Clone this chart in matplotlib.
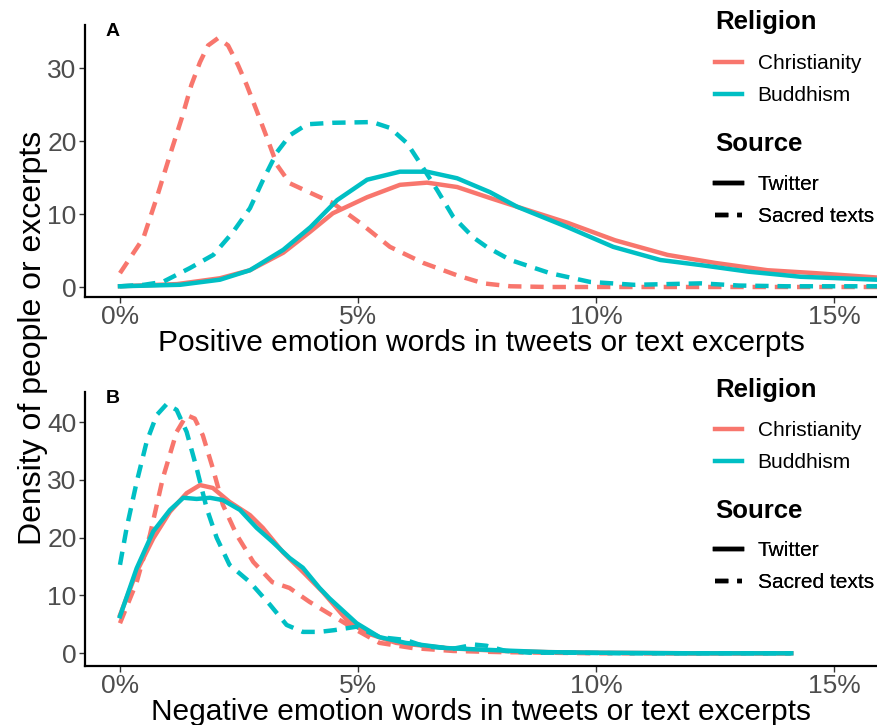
import matplotlib
matplotlib.use("Agg")
import matplotlib.pyplot as plt
from matplotlib.lines import Line2D

plt.rcParams['font.family'] = ['Liberation Sans', 'DejaVu Sans']

RED = '#F8766D'
TEAL = '#00BFC4'

# ---------------- Panel A: positive emotion words ----------------
chr_sacred_pos_x = [0, 0.49, 0.77, 1.05, 1.3, 1.5, 1.68, 1.85, 2.06, 2.27, 2.48, 2.66, 2.88, 3.09, 3.3,
                    3.57, 4.0, 4.47, 5.04, 5.67, 6.37, 7.08, 7.63, 8.2, 9, 10, 11, 12, 13, 14, 15, 15.9]
chr_sacred_pos_y = [1.9, 6.7, 12.2, 18.1, 23.2, 27.7, 30.8, 33.1, 34.1, 33.1, 30.4, 27.7, 24, 20.4, 16.7,
                    14.2, 12.9, 11.5, 8.8, 5.5, 3.3, 1.6, 0.5, 0.1, 0, 0, 0, 0, 0, 0, 0, 0]

bud_sacred_pos_x = [0, 0.5, 0.9, 1.47, 1.96, 2.37, 2.73, 3.0, 3.3, 3.57, 3.93, 4.47, 5.3, 5.67, 6.03,
                    6.3, 6.66, 7.0, 7.42, 7.7, 8.2, 9.03, 9.87, 10.8, 11.5, 12.2, 13, 14, 15, 15.9]
bud_sacred_pos_y = [0.1, 0.3, 0.7, 2.6, 4.4, 7.5, 10.8, 14.6, 18.5, 20.8, 22.3, 22.5, 22.6, 21.8, 19.7,
                    17, 13.3, 9.6, 6.8, 5.5, 3.7, 1.9, 0.7, 0.3, 0.4, 0.5, 0.2, 0.1, 0.1, 0.1]

bud_tw_pos_x = [0, 1.26, 2.1, 2.73, 3.43, 4.0, 4.56, 5.19, 5.88, 6.45, 7.08, 7.77, 8.34, 9.4, 10.36,
                11.35, 12.2, 13.2, 14.3, 15.9]
bud_tw_pos_y = [0.1, 0.3, 1.0, 2.3, 5.1, 8.2, 11.9, 14.7, 15.8, 15.8, 14.9, 13.0, 11.0, 8.2, 5.5,
                3.7, 3.0, 2.1, 1.4, 1.0]

chr_tw_pos_x = [0, 1.2, 2.1, 2.73, 3.43, 4.0, 4.47, 5.19, 5.88, 6.45, 7.08, 7.77, 8.34, 9.4, 10.4,
                11.5, 12.5, 13.6, 14.6, 15.9]
chr_tw_pos_y = [0.1, 0.4, 1.2, 2.3, 4.7, 7.6, 10.1, 12.3, 14.0, 14.3, 13.7, 12.2, 11.0, 8.8, 6.4,
                4.4, 3.3, 2.3, 1.9, 1.3]

# ---------------- Panel B: negative emotion words ----------------
chr_sacred_neg_x = [0, 0.35, 0.63, 0.9, 1.19, 1.4, 1.57, 1.74, 1.95, 2.16, 2.45, 2.8, 3.2, 3.56, 3.98,
                    4.34, 4.97, 5.45, 6.15, 7, 8, 9, 10, 11, 12, 13, 14.1]
chr_sacred_neg_y = [5.2, 12.3, 20.5, 30.3, 38.3, 41.2, 40.6, 37.7, 32, 25.7, 20.5, 15.8, 12.3, 11.3, 8.9,
                    7.1, 4.0, 1.8, 0.9, 0.4, 0.2, 0.1, 0, 0, 0, 0, 0]

bud_sacred_neg_x = [0, 0.14, 0.35, 0.56, 0.77, 0.98, 1.19, 1.4, 1.61, 1.82, 2.03, 2.3, 2.73, 3.15, 3.5,
                    3.84, 4.19, 4.5, 4.97, 5.45, 6.0, 6.4, 7.0, 7.45, 7.7, 8.1, 8.6, 9.5, 10.5, 12, 14.1]
bud_sacred_neg_y = [15.3, 21.7, 29.6, 36.6, 41.2, 43.1, 42.1, 38.3, 32, 25.1, 20, 15.3, 12.3, 8.4, 4.9,
                    3.7, 3.7, 4.0, 4.6, 2.8, 2.3, 1.2, 0.8, 1.5, 1.3, 0.4, 0.1, 0.1, 0, 0, 0]

chr_tw_neg_x = [0, 0.35, 0.7, 1.05, 1.4, 1.68, 1.95, 2.3, 2.73, 3.0, 3.42, 3.84, 4.26, 4.76,
                5.18, 5.8, 6.86, 8, 9, 10, 12, 14.1]
chr_tw_neg_y = [6.6, 14.1, 19.9, 24.5, 27.7, 29.1, 28.6, 26.2, 23.9, 21.7, 17.5, 14.1, 10.6, 5.8,
                3.5, 1.8, 0.9, 0.4, 0.2, 0.1, 0, 0]

bud_tw_neg_x = [0, 0.35, 0.7, 1.05, 1.33, 1.61, 1.89, 2.16, 2.52, 2.87, 3.2, 3.56, 3.84, 4.19, 4.4,
                4.97, 5.45, 6.0, 6.86, 8, 9, 10, 12, 14.1]
bud_tw_neg_y = [6.4, 14.7, 21.1, 24.8, 26.9, 26.7, 26.9, 26.5, 24.8, 21.7, 19.3, 16.5, 14.8, 11.3, 9.5,
                5.2, 2.8, 1.8, 0.9, 0.5, 0.2, 0.1, 0, 0]

x_ticks = [0, 5, 10, 15]
x_tick_labels = ['0%', '5%', '10%', '15%']
yticks_A = [0, 10, 20, 30]
yticks_B = [0, 10, 20, 30, 40]

religions = ['Christianity', 'Buddhism']
sources = ['Twitter', 'Sacred texts']

W, H = 877, 725
fig = plt.figure(figsize=(W / 100, H / 100), dpi=100)

LW = 3.2
DASH = (3, 2)


def style_axes(ax, yticks, xlabel, ylim, panel):
    ax.set_xlim(-0.735, 15.9)
    ax.set_ylim(*ylim)
    ax.set_xticks(x_ticks)
    ax.set_xticklabels(x_tick_labels)
    ax.set_yticks(yticks)
    for s in ['top', 'right']:
        ax.spines[s].set_visible(False)
    for s in ['left', 'bottom']:
        ax.spines[s].set_linewidth(1.6)
        ax.spines[s].set_color('black')
    ax.tick_params(axis='both', labelsize=19, labelcolor='#4D4D4D', color='#333333',
                   length=4, width=1, pad=2)
    ax.set_xlabel(xlabel, fontsize=21.5, labelpad=0)
    ax.text(0.035, 0.975, panel, transform=ax.transAxes, fontsize=14, fontweight='bold',
            ha='center', va='center')


def add_legends(ax, rel_title_y, rel_top, src_title_y, src_top):
    kw = dict(loc='upper left', bbox_transform=fig.transFigure, frameon=False, fontsize=15,
              handlelength=1.3, handletextpad=0.75, labelspacing=0.645, borderpad=0,
              borderaxespad=0)
    h1 = [Line2D([], [], color=RED, lw=LW), Line2D([], [], color=TEAL, lw=LW)]
    leg1 = ax.legend(h1, religions, bbox_to_anchor=(715 / W, 1 - rel_top / H), **kw)
    ax.add_artist(leg1)
    h2 = [Line2D([], [], color='black', lw=LW),
          Line2D([], [], color='black', lw=LW, linestyle=(0, DASH))]
    leg2 = ax.legend(h2, sources, bbox_to_anchor=(715 / W, 1 - src_top / H), **kw)
    ax.add_artist(leg2)
    fig.text(715 / W, 1 - rel_title_y / H, 'Religion', fontsize=18.5, fontweight='bold',
             ha='left', va='center')
    fig.text(715 / W, 1 - src_title_y / H, 'Source', fontsize=18.5, fontweight='bold',
             ha='left', va='center')


# Panel A
axA = fig.add_axes([85 / W, 1 - 297 / H, 1 - 85 / W, (297 - 25) / H])
axA.plot(chr_tw_pos_x, chr_tw_pos_y, color=RED, lw=LW, solid_joinstyle='round')
axA.plot(chr_sacred_pos_x, chr_sacred_pos_y, color=RED, lw=LW, linestyle=(0, DASH))
axA.plot(bud_tw_pos_x, bud_tw_pos_y, color=TEAL, lw=LW, solid_joinstyle='round')
axA.plot(bud_sacred_pos_x, bud_sacred_pos_y, color=TEAL, lw=LW, linestyle=(0, DASH))
style_axes(axA, yticks_A, 'Positive emotion words in tweets or text excerpts', (-1.37, 35.9), 'A')
add_legends(axA, 22, 54, 144, 175)

# Panel B
axB = fig.add_axes([85 / W, 1 - 666 / H, 1 - 85 / W, (666 - 392) / H])
axB.plot(chr_tw_neg_x, chr_tw_neg_y, color=RED, lw=LW, solid_joinstyle='round')
axB.plot(chr_sacred_neg_x, chr_sacred_neg_y, color=RED, lw=LW, linestyle=(0, DASH))
axB.plot(bud_tw_neg_x, bud_tw_neg_y, color=TEAL, lw=LW, solid_joinstyle='round')
axB.plot(bud_sacred_neg_x, bud_sacred_neg_y, color=TEAL, lw=LW, linestyle=(0, DASH))
style_axes(axB, yticks_B, 'Negative emotion words in tweets or text excerpts', (-2.2, 45.2), 'B')
add_legends(axB, 390, 421, 511, 541)

fig.text(33 / W, 1 - 338 / H, 'Density of people or excerpts', rotation=90, fontsize=23,
         ha='center', va='center')

fig.savefig('out.png', dpi=100)
